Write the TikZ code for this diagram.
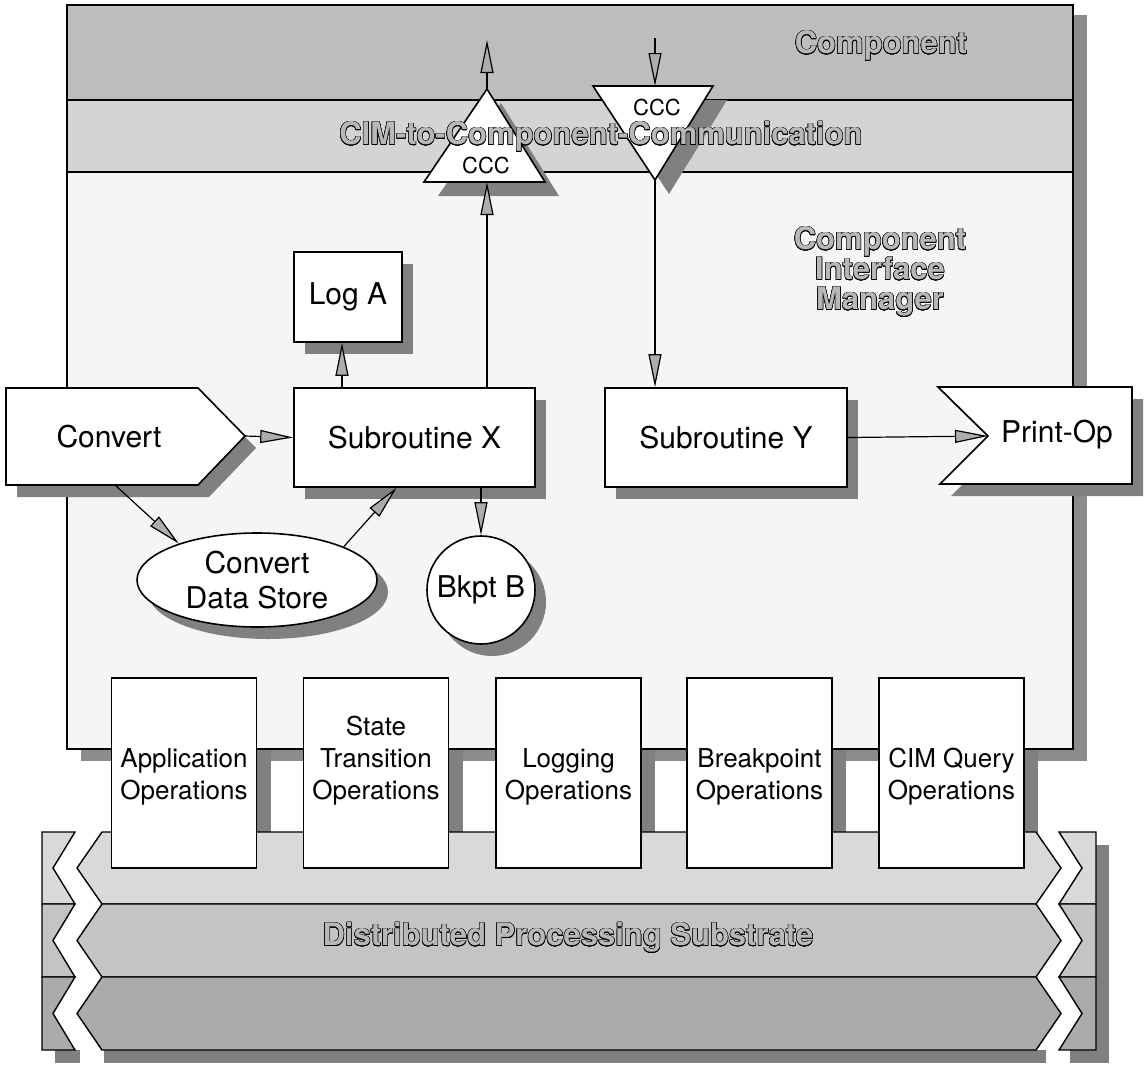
\documentclass[tikz,border=0pt]{standalone}
\usepackage{fontspec}
\setmainfont{TeX Gyre Heros}
\usepackage{contour}
\contourlength{0.5pt}
\usetikzlibrary{arrows.meta,shapes.geometric,shadows,calc}

\tikzset{
  lbl/.style={font=\fontsize{30}{35}\selectfont, align=center},
  oplbl/.style={font=\fontsize{26}{32}\selectfont, align=center, inner sep=0pt},
  ttl/.style={font=\bfseries\fontsize{31}{30}\selectfont, text=black!28, align=center, inner sep=0pt},
  ccc/.style={font=\fontsize{22}{24}\selectfont, inner sep=0pt},
  ln/.style={draw=black, line width=1.6pt},
  boxnode/.style={ln, fill=white, inner sep=0pt, lbl},
  opbox/.style={ln, fill=white, minimum width=145pt, minimum height=190pt, inner sep=0pt},
  shd/.style={general shadow={fill=black!50, shadow xshift=11pt, shadow yshift=-12pt}},
  darkshade/.style={fill=black!50},
  arr/.style={line width=1.2pt, -{Triangle[length=33pt,width=13pt,fill=black!32]}},
}

\begin{document}
\begin{tikzpicture}[x=1pt,y=-1pt]
\useasboundingbox (0,0) rectangle (1144,1066);
\fill[white] (0,0) rectangle (1144,1066);

% ---------- substrate shadow strips
\fill[darkshade] (55,1050) rectangle (80,1063);
\fill[darkshade] (104,1050) rectangle (1046,1063);
\fill[darkshade] (1070,1050) rectangle (1109,1063);
\fill[darkshade] (1096,845) rectangle (1109,1063);

% ---------- shadow of the manager frame and the operation boxes
\fill[fill=black!45] (81,15) rectangle (1087,761);
\foreach \cx in {184,376,568.5,759.5,951.5}
  \fill[darkshade] (\cx-72.5+14,690) rectangle (\cx+72.5+14,880);

% ---------- distributed processing substrate (three bands, broken at both ends)
\foreach \ya/\ym/\yb/\c in {832/868/904/15, 904/940.5/977/23, 977/1013.5/1050/33}{
  \filldraw[fill=black!\c, line width=1.4pt]
    (42,\ya) -- (75,\ya) -- (53,\ym) -- (75,\yb) -- (42,\yb) -- cycle;
  \filldraw[fill=black!\c, line width=1.4pt]
    (102,\ya) -- (1036,\ya) -- (1061,\ym) -- (1036,\yb) -- (102,\yb) -- (77,\ym) -- cycle;
  \filldraw[fill=black!\c, line width=1.4pt]
    (1059,\ya) -- (1096,\ya) -- (1096,\yb) -- (1059,\yb) -- (1082,\ym) -- cycle;
}
\node[ttl] (dps) at (568,938) {\contour{black}{Distributed Processing Substrate}};

% ---------- component interface manager frame
\fill[black!4] (67,172) rectangle (1073,749);
\fill[black!26] (67,5) rectangle (1073,100);
\fill[black!17] (67,100) rectangle (1073,172);
\draw[line width=1.8pt] (67,100) -- (1073,100) (67,172) -- (1073,172);
\draw[line width=2pt] (67,5) rectangle (1073,749);

% ---------- operation boxes
\node[opbox] (ops1) at (184,773) {};
\node[opbox] (ops2) at (376,773) {};
\node[opbox] (ops3) at (568.5,773) {};
\node[opbox] (ops4) at (759.5,773) {};
\node[opbox] (ops5) at (951.5,773) {};
\node[oplbl, anchor=south] (ops1t) at (184,805) {Application\\Operations};
\node[oplbl, anchor=south] (ops2t) at (376,805) {State\\Transition\\Operations};
\node[oplbl, anchor=south] (ops3t) at (568.5,805) {Logging\\Operations};
\node[oplbl, anchor=south] (ops4t) at (759.5,805) {Breakpoint\\Operations};
\node[oplbl, anchor=south] (ops5t) at (951.5,805) {CIM Query\\Operations};

% ---------- CCC triangles
\coordinate (t1apex) at (487,89);
\coordinate (t1base) at (487,182);
\coordinate (upend) at (487,40);
\fill[darkshade] (438,196) -- (501,103) -- (559,196) -- cycle;
\filldraw[fill=white, ln] (424,182) -- (487,89) -- (545,182) -- cycle;
\node[ccc] (ccc1) at (486,165) {CCC};

\coordinate (t2top) at (655,86);
\coordinate (t2apex) at (655,180);
\coordinate (dnstart) at (655,38);
\fill[darkshade] (607,100) -- (727,100) -- (669,194) -- cycle;
\filldraw[fill=white, ln] (593,86) -- (713,86) -- (655,180) -- cycle;
\node[ccc] (ccc2) at (657,107) {CCC};

% ---------- band titles
\node[ttl] (comp) at (881,46) {\contour{black}{Component}};
\node[ttl] (c2c) at (601,137) {\contour{black}{CIM-to-Component-Communication}};
\node[ttl] (cim) at (880,272)
  {\contour{black}{Component}\\\contour{black}{Interface}\\\contour{black}{Manager}};

% ---------- application nodes
\filldraw[fill=white, ln, shd] (6,388) -- (198,388) -- (245,436) -- (198,485) -- (6,485) -- cycle;
\node[lbl] (convert) at (109,437) {Convert};
\coordinate (convtip) at (245,436);
\coordinate (convbot) at (115,485);

\node[boxnode, shd, minimum width=241pt, minimum height=99pt] (subx) at (414.5,437.5) {Subroutine X};
\node[boxnode, shd, minimum width=108pt, minimum height=90pt] (loga) at (348,297) {Log A};
\node[boxnode, shd, ellipse, minimum width=240pt, minimum height=94pt] (store) at (257,580) {Convert\\Data Store};
\node[boxnode, shd, circle, minimum size=108pt] (bkpt) at (481,590) {Bkpt B};
\node[boxnode, shd, minimum width=242pt, minimum height=99pt] (suby) at (726,437.5) {Subroutine Y};

\filldraw[fill=white, ln, shd] (938,387) -- (1132,387) -- (1132,484) -- (940,484) -- (988,436) -- cycle;
\node[lbl] (printop) at (1057,435) {Print-Op};
\coordinate (printnotch) at (988,436);

% ---------- connectors
\coordinate (lx) at ($(loga.south)+(-6,0)$);
\draw[arr] (lx |- subx.north) -- (lx);
\draw[arr] (t1base |- subx.north) -- (t1base);
\draw[arr] (t1apex) -- (upend);
\draw[arr] (dnstart) -- (t2top);
\draw[arr] (t2apex) -- (t2apex |- suby.north);
\draw[arr] (convtip) -- (subx.west);
\draw[arr] (convbot) -- (store.155);
\draw[arr] (store.21) -- ($(subx.south)+(-18,0)$);
\draw[arr] (bkpt.north |- subx.south) -- (bkpt.north);
\draw[arr] (suby.east) -- (printnotch);
\end{tikzpicture}
\end{document}
